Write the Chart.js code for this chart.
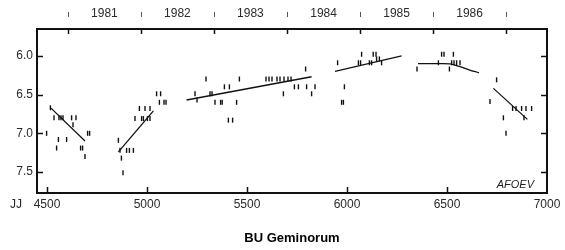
<!DOCTYPE html>
<html>
<head>
<meta charset="utf-8">
<script src="https://cdn.jsdelivr.net/npm/chart.js@4/dist/chart.umd.min.js"></script>
<style>
  html, body { margin: 0; padding: 0; background: #fff; }
  #c { display: block; }
</style>
</head>
<body>
<canvas id="c" width="565" height="250"></canvas>
<script>
// ---- Data (JD - 2440000, visual magnitude) ----
const obsJD = [
  4498, 4517, 4535, 4560, 4570, 4580, 4623, 4645, 4630, 4557, 4598, 4548, 4668, 4678, 4690, 4703, 4713,
  4857, 4865, 4898, 4912, 4932, 4872, 4880, 4940, 4973, 4982, 5002, 5015, 4962, 4990, 5015, 5048, 5068, 5062, 5085, 5095,
  5240, 5250, 5295, 5315, 5325, 5340, 5368, 5376, 5387, 5412, 5407, 5428, 5448, 5462,
  5595, 5610, 5625, 5650, 5665, 5685, 5705, 5720, 5682, 5737, 5757, 5798, 5840, 5793, 5823,
  5953, 5973, 5982, 5987, 6057, 6068, 6073, 6112, 6123, 6131, 6145, 6148, 6162, 6173,
  6350, 6457, 6473, 6485, 6532, 6512, 6523, 6535, 6548, 6565,
  6715, 6748, 6782, 6795, 6828, 6845, 6873, 6895, 6923, 6885
];
const obsMag = [
  7.00, 6.67, 6.80, 6.80, 6.80, 6.80, 6.80, 6.80, 6.89, 7.08, 7.08, 7.19, 7.19, 7.19, 7.30, 7.00, 7.00,
  7.09, 7.22, 7.22, 7.22, 7.22, 7.32, 7.51, 6.81, 6.81, 6.81, 6.81, 6.81, 6.68, 6.68, 6.68, 6.49, 6.49, 6.60, 6.60, 6.60,
  6.49, 6.57, 6.30, 6.49, 6.49, 6.60, 6.60, 6.60, 6.40, 6.40, 6.83, 6.83, 6.60, 6.30,
  6.30, 6.30, 6.30, 6.30, 6.30, 6.30, 6.30, 6.30, 6.49, 6.40, 6.40, 6.40, 6.40, 6.17, 6.49,
  6.09, 6.60, 6.60, 6.40, 6.09, 6.09, 5.98, 6.09, 6.09, 5.98, 5.98, 6.04, 6.04, 6.09,
  6.17, 6.09, 5.98, 5.98, 5.98, 6.17, 6.09, 6.09, 6.09, 6.09,
  6.59, 6.31, 6.80, 7.00, 6.68, 6.68, 6.68, 6.68, 6.68, 6.80
];

// Trend lines drawn on the original
const trend1JD = [4520, 4690];        const trend1Mag = [6.675, 7.10];
const trend2JD = [4857, 5032];        const trend2Mag = [7.24, 6.71];
const trend3JD = [5198, 5823];        const trend3Mag = [6.57, 6.27];
const trend4JD = [5940, 6273];        const trend4Mag = [6.20, 6.00];
const trend5JD = [6355, 6455, 6515, 6565, 6610, 6660];
const trend5Mag = [6.10, 6.10, 6.105, 6.14, 6.18, 6.22];
const trend6JD = [6732, 6902];        const trend6Mag = [6.42, 6.82];

// Axis ticks and labels
const xTickValues = [4500, 5000, 5500, 6000, 6500, 7000];
const xTickLabels = ['4500', '5000', '5500', '6000', '6500', '7000'];
const yTickValues = [6.0, 6.5, 7.0, 7.5];
const yTickLabels = ['6.0', '6.5', '7.0', '7.5'];
const yearStartJD = [4605.5, 4970.5, 5335.5, 5700.5, 6066.5, 6431.5, 6796.5];
const yearMidJD = [4787, 5152, 5517, 5883, 6248, 6613];
const yearLabels = ['1981', '1982', '1983', '1984', '1985', '1986'];

const titleText = 'BU Geminorum';
const creditText = 'AFOEV';
const xPrefixText = 'JJ';

// ---- build ----
const pts = obsJD.map((x, i) => ({ x, y: obsMag[i] }));
const mk = (xs, ys) => xs.map((x, i) => ({ x, y: ys[i] }));
const trends = [
  mk(trend1JD, trend1Mag), mk(trend2JD, trend2Mag), mk(trend3JD, trend3Mag),
  mk(trend4JD, trend4Mag), mk(trend5JD, trend5Mag), mk(trend6JD, trend6Mag)
];

const INK = '#111';
const LBL = '#2a2a2a';
const FONT = '"Liberation Sans", Arial, sans-serif';

const lineDatasets = trends.map((d, i) => ({
  type: 'line',
  data: d,
  showLine: true,
  borderColor: INK,
  borderWidth: i === 2 ? 1.6 : 1.3,
  pointRadius: 0,
  tension: i === 4 ? 0.4 : 0,
  fill: false,
  xAxisID: 'x',
  yAxisID: 'y'
}));

const decor = {
  id: 'decor',
  afterDraw(chart) {
    const { ctx, chartArea: a, scales } = chart;
    ctx.save();
    ctx.strokeStyle = INK;
    ctx.lineWidth = 1.5;
    ctx.beginPath();
    yTickValues.forEach(v => {
      const py = Math.round(scales.y.getPixelForValue(v)) + 0.5;
      ctx.moveTo(a.left, py); ctx.lineTo(a.left + 6, py);
      ctx.moveTo(a.right - 6, py); ctx.lineTo(a.right, py);
    });
    xTickValues.forEach(v => {
      const px = Math.round(scales.x.getPixelForValue(v)) + 0.5;
      if (px < a.right - 2) { ctx.moveTo(px, a.bottom); ctx.lineTo(px, a.bottom - 6); }
    });
    yearStartJD.forEach(v => {
      const px = Math.round(scales.xTop.getPixelForValue(v)) + 0.5;
      ctx.moveTo(px, a.top); ctx.lineTo(px, a.top + 5);
    });
    ctx.stroke();
    ctx.lineWidth = 1;
    ctx.strokeStyle = '#555';
    ctx.beginPath();
    yearStartJD.forEach(v => {
      const px = Math.round(scales.xTop.getPixelForValue(v)) + 0.5;
      ctx.moveTo(px, 12); ctx.lineTo(px, 17);
    });
    ctx.stroke();

    ctx.fillStyle = LBL;
    ctx.font = '12px ' + FONT;
    ctx.textBaseline = 'alphabetic';
    ctx.textAlign = 'left';
    ctx.fillText(xPrefixText, 10, 208);

    ctx.font = 'italic 11px ' + FONT;
    ctx.textAlign = 'right';
    ctx.fillStyle = '#222';
    ctx.fillText(creditText, a.right - 13, a.bottom - 5);

    ctx.font = 'bold 13px ' + FONT;
    ctx.textAlign = 'center';
    ctx.fillStyle = '#000';
    ctx.fillText(titleText, (a.left + a.right) / 2, 242);
    ctx.restore();
  }
};

new Chart(document.getElementById('c'), {
  type: 'scatter',
  data: {
    datasets: [
      {
        data: pts,
        pointStyle: 'line',
        rotation: 90,
        pointRadius: 2.5,
        pointBorderWidth: 1.4,
        borderColor: INK,
        backgroundColor: INK,
        showLine: false,
        xAxisID: 'x',
        yAxisID: 'y'
      },
      ...lineDatasets
    ]
  },
  options: {
    responsive: false,
    animation: false,
    events: [],
    layout: { padding: 0 },
    plugins: { legend: { display: false }, tooltip: { enabled: false }, title: { display: false } },
    scales: {
      x: {
        type: 'linear', position: 'bottom', min: 4450, max: 7000,
        afterFit(s) { s.height = 57; },
        afterBuildTicks(s) { s.ticks = xTickValues.map(v => ({ value: v })); },
        grid: { display: false, drawTicks: false },
        border: { display: true, color: INK, width: 2 },
        ticks: {
          autoSkip: false, maxRotation: 0, padding: 4, color: LBL,
          font: { family: FONT, size: 12 },
          callback: (v, i) => xTickLabels[i]
        }
      },
      xTop: {
        type: 'linear', position: 'top', min: 4450, max: 7000,
        afterFit(s) { s.height = 29; },
        afterBuildTicks(s) { s.ticks = yearMidJD.map(v => ({ value: v })); },
        grid: { display: false, drawTicks: false },
        border: { display: true, color: INK, width: 2 },
        ticks: {
          autoSkip: false, maxRotation: 0, padding: 8, color: LBL,
          font: { family: FONT, size: 12 },
          callback: (v, i) => yearLabels[i]
        }
      },
      y: {
        type: 'linear', position: 'left', reverse: true, min: 5.654, max: 7.77,
        afterFit(s) { s.width = 37; },
        afterBuildTicks(s) { s.ticks = yTickValues.map(v => ({ value: v })); },
        grid: { display: false, drawTicks: false },
        border: { display: true, color: INK, width: 2 },
        ticks: {
          autoSkip: false, padding: 4, color: LBL,
          font: { family: FONT, size: 12 },
          callback: (v, i) => yTickLabels[i]
        }
      },
      yRight: {
        type: 'linear', position: 'right', reverse: true, min: 5.654, max: 7.77,
        afterFit(s) { s.width = 18; },
        grid: { display: false, drawTicks: false },
        border: { display: true, color: INK, width: 2 },
        ticks: { display: false }
      }
    }
  },
  plugins: [decor]
});
</script>
</body>
</html>
